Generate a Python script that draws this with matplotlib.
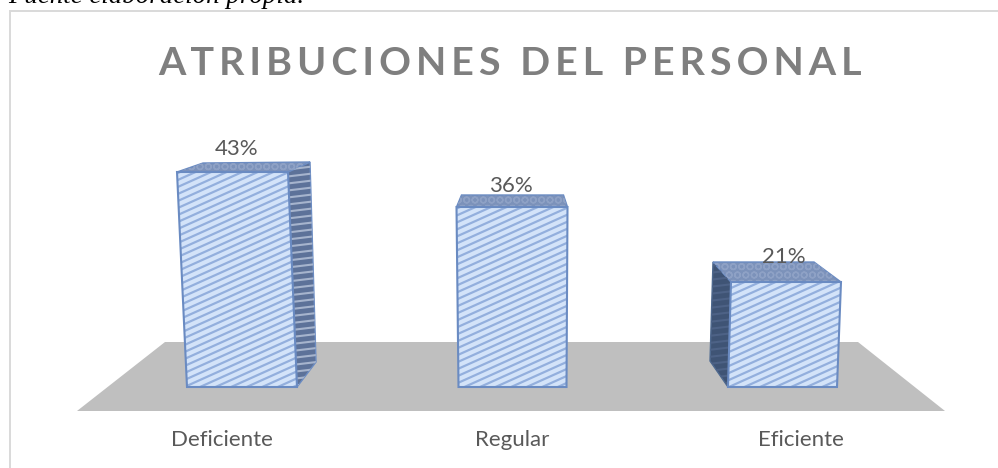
# -*- coding: utf-8 -*-
import numpy as np
import matplotlib
matplotlib.use("Agg")
import matplotlib.pyplot as plt
from matplotlib.patches import Polygon
from matplotlib.collections import LineCollection

categories = ["Deficiente", "Regular", "Eficiente"]
values = [43, 36, 21]
title = "ATRIBUCIONES DEL PERSONAL"
source_note = "Fuente elaboración propia."

W, H = 998, 468
PX_X = 1 / 270.5  # one pixel in category units
PX_Y = 0.2        # one pixel in percent units

# 3D projection of each box, in pixels from its category position
bottom_edges = [(-55, 55), (-54, 54), (-55, 54)]
top_edges = [(-65, 46), (-56, 55), (-52, 58)]
back_offsets = [((26, -9), (22, -10)), ((5, -12), (-4, -12)), ((-18, -20), (-27, -20))]
side_foot = [(19, -25), None, (-18, -26)]

# labels follow the perspective too
value_label_dx = [-5, -2, 1]
value_label_gap = [17, 15, 19]
category_label_dx = [-20, 0, 18]

FRONT = "#d3e3f9"
STRIPE = "#93afdd"
EDGE = "#6a8bc2"
TOP = "#7c92ba"
TOP_SPECK = "#8ea1c5"
SIDE = "#5d7299"
GRAY = "#bfbfbf"
TEXT = "#595959"


def px(x, y):
    # pixel position on the page to data units
    return (x - 242) * PX_X, (387 - y) * PX_Y


def stripes(ax, poly, color, lw, slope=0.45, step=7.0):
    x0, x1 = ax.get_xlim()
    span = (x1 - x0) / PX_X
    ys = np.arange(-300, 1000, step)
    segs = [[px(0, y), px(span, y - slope * span)] for y in ys]
    lc = LineCollection(segs, colors=color, linewidths=lw, zorder=poly.get_zorder() + 0.1)
    ax.add_collection(lc, autolim=False)
    lc.set_clip_path(poly)


plt.rcParams["hatch.linewidth"] = 1.0

fig = plt.figure(figsize=(W / 100, H / 100), dpi=100)
ax = fig.add_axes([0, 0, 1, 1])
ax.set_xlim(-242 * PX_X, (W - 242) * PX_X)
ax.set_ylim((387 - H) * PX_Y, 387 * PX_Y)
ax.axis("off")

# chart frame, runs off the page on the right and at the bottom
ax.add_patch(Polygon([px(9.5, 10.5), px(1010, 10.5), px(1010, 480), px(9.5, 480)],
                     fc="white", ec="#d9d9d9", lw=1.4, zorder=0))

# floor
ax.add_patch(Polygon([px(77, 411), px(165, 342), px(858, 342), px(945, 411)],
                     fc=GRAY, ec="none", zorder=1))

for i, (cat, val) in enumerate(zip(categories, values)):
    bl, br = bottom_edges[i]
    tl, tr = top_edges[i]
    (bx0, by0), (bx1, by1) = back_offsets[i]
    pt = lambda dx, dy, v=0: (i + dx * PX_X, v + dy * -PX_Y)

    front_pts = [pt(bl, 0), pt(br, 0), pt(tr, 0, val), pt(tl, 0, val)]
    top_pts = [pt(tl, 0, val), pt(tr, 0, val), pt(tr + bx1, by1, val), pt(tl + bx0, by0, val)]

    # side wall
    foot = side_foot[i]
    if foot is not None:
        if foot[0] > 0:
            side_pts = [pt(br, 0), pt(br + foot[0], foot[1]), pt(tr + bx1, by1, val), pt(tr, 0, val)]
            side = Polygon(side_pts, fc=SIDE, ec=EDGE, lw=1, zorder=3)
            ax.add_patch(side)
            stripes(ax, side, "#a6b4cd", 1.5, slope=0.12, step=7)
        else:
            side_pts = [pt(bl, 0), pt(bl + foot[0], foot[1]), pt(tl + bx0, by0, val), pt(tl, 0, val)]
            side = Polygon(side_pts, fc="#3f5475", ec="#4f6a90", lw=1, zorder=3)
            ax.add_patch(side)
            stripes(ax, side, "#4d6286", 1.5, slope=0.12, step=7)

    ax.add_patch(Polygon(top_pts, fc=TOP, ec=EDGE, lw=1, zorder=3))
    ax.add_patch(Polygon(top_pts, fc="none", ec=TOP_SPECK, lw=0, hatch="OO", zorder=3.1))
    front = Polygon(front_pts, fc=FRONT, ec="none", zorder=4)
    ax.add_patch(front)
    stripes(ax, front, STRIPE, 1.6)
    ax.add_patch(Polygon(front_pts, fc="none", ec=EDGE, lw=1.5, zorder=5))

    ax.text(i + value_label_dx[i] * PX_X, val + value_label_gap[i] * PX_Y, f"{val}%",
            ha="center", va="baseline", color=TEXT, fontsize=16,
            family="Lato", zorder=6)
    ax.text(i + category_label_dx[i] * PX_X, -(440 - 387) * PX_Y, cat, ha="center", va="center",
            color=TEXT, fontsize=16, family="Lato", zorder=6)

# hair spaces stand in for the title's letter spacing
spaced = "\u200a\u200a".join(title)
x_t, y_t = px(510, 75)
ax.text(x_t, y_t, spaced, ha="center", va="baseline", color="#7f7f7f",
        fontsize=28.4, fontweight="bold", family=["Lato", "DejaVu Sans"])

x_n, y_n = px(8, 3)
ax.text(x_n, y_n, source_note, ha="left", va="baseline", color="black",
        fontsize=19.4, style="italic", family="Liberation Serif")

fig.savefig("out.png", dpi=100)
